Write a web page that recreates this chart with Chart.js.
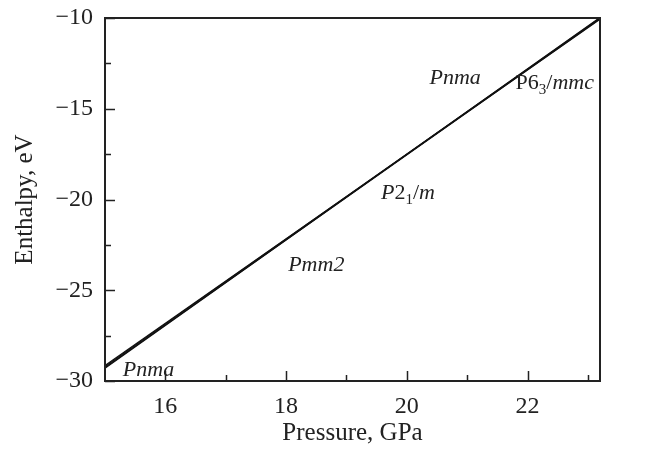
<!DOCTYPE html>
<html>
<head>
<meta charset="utf-8">
<script src="https://cdn.jsdelivr.net/npm/chart.js@4.4.1/dist/chart.umd.min.js"></script>
<style>
  html, body { margin: 0; padding: 0; background: #fff; }
  #wrap { width: 657px; height: 450px; }
</style>
</head>
<body>
<div id="wrap"><canvas id="enthalpy-chart" width="657" height="450"></canvas></div>
<script>
// pressure grid (GPa) and enthalpy of each phase (eV)
const pressure = [15, 23.2];
const hPnma   = [-29.2, -10.0];
const hPmm2   = [-29.25, -10.04];
const hP21m   = [-29.15, -10.07];
const hP63mmc = [-29.3, -9.97];

const xMajor = [16, 18, 20, 22];
const xMinor = [17, 19, 21, 23];
const yMajor = [-30, -25, -20, -15, -10];
const yMinor = [-27.5, -22.5, -17.5, -12.5];

// phase labels: [x, y, segments]  (segment: text, italic, subscript)
const phaseLabels = [
  [15.72, -29.4, [['Pnma', true]]],
  [18.5, -23.6, [['Pmm', true], ['2', true]]],
  [20.02, -19.65, [['P', true], ['2', false], ['1', false, true], ['/', false], ['m', true]]],
  [20.8, -13.3, [['Pnma', true]]],
  [22.45, -13.6, [['P6', false], ['3', false, true], ['/', false], ['mmc', true]]]
];

const SERIF = '"Liberation Serif", "DejaVu Serif", serif';

const frameTicks = {
  id: 'frameTicks',
  afterDraw(chart) {
    const { ctx, chartArea: a, scales: { x, y } } = chart;
    ctx.save();
    ctx.strokeStyle = '#222';
    ctx.lineWidth = 2;
    ctx.strokeRect(a.left, a.top, a.right - a.left, a.bottom - a.top);
    ctx.lineWidth = 1.5;
    ctx.beginPath();
    xMajor.concat(xMinor).forEach(v => {
      const len = xMajor.includes(v) ? 10 : 6;
      const px = Math.round(x.getPixelForValue(v)) + 0.5;
      ctx.moveTo(px, a.bottom); ctx.lineTo(px, a.bottom - len);
    });
    yMajor.concat(yMinor).forEach(v => {
      const len = yMajor.includes(v) ? 10 : 6;
      const py = Math.round(y.getPixelForValue(v)) + 0.5;
      ctx.moveTo(a.left, py); ctx.lineTo(a.left + len, py);
    });
    ctx.stroke();

    // phase names
    ctx.fillStyle = '#222';
    ctx.textBaseline = 'middle';
    phaseLabels.forEach(([lx, ly, segs]) => {
      const fontOf = s => (s[1] ? 'italic ' : '') + (s[2] ? '15px ' : '22px ') + SERIF;
      let w = 0;
      segs.forEach(s => { ctx.font = fontOf(s); w += ctx.measureText(s[0]).width; });
      let cx = x.getPixelForValue(lx) - w / 2;
      const cy = y.getPixelForValue(ly);
      segs.forEach(s => {
        ctx.font = fontOf(s);
        ctx.fillText(s[0], cx, s[2] ? cy + 7 : cy);
        cx += ctx.measureText(s[0]).width;
      });
    });
    ctx.restore();
  }
};

const mkSet = (label, data) => ({
  label,
  data: pressure.map((p, i) => ({ x: p, y: data[i] })),
  borderColor: '#111',
  borderWidth: 1.2,
  pointRadius: 0,
  fill: false,
  tension: 0
});

new Chart(document.getElementById('enthalpy-chart'), {
  type: 'line',
  data: {
    datasets: [
      mkSet('Pnma', hPnma),
      mkSet('Pmm2', hPmm2),
      mkSet('P21/m', hP21m),
      mkSet('P63/mmc', hP63mmc)
    ]
  },
  options: {
    responsive: false,
    animation: false,
    layout: { padding: { top: 18, right: 57, left: 0, bottom: 0 } },
    plugins: { legend: { display: false }, tooltip: { enabled: false } },
    scales: {
      x: {
        type: 'linear',
        min: 15, max: 23.2,
        afterBuildTicks: s => { s.ticks = xMajor.map(v => ({ value: v })); },
        afterFit: s => { s.height = 69; s.paddingLeft = 0; s.paddingRight = 0; },
        grid: { display: false, drawTicks: false },
        border: { display: false },
        ticks: {
          color: '#222', padding: 11,
          font: { family: SERIF, size: 24 },
          callback: v => String(v)
        },
        title: {
          display: true, text: 'Pressure, GPa', color: '#222',
          font: { family: SERIF, size: 25 },
          padding: { top: 0, bottom: 2 }
        }
      },
      y: {
        type: 'linear',
        min: -30, max: -10,
        afterBuildTicks: s => { s.ticks = yMajor.map(v => ({ value: v })); },
        afterFit: s => { s.width = 105; s.paddingTop = 0; s.paddingBottom = 0; },
        grid: { display: false, drawTicks: false },
        border: { display: false },
        ticks: {
          color: '#222', padding: 12,
          font: { family: SERIF, size: 24 },
          callback: v => (v < 0 ? '\u2212' + Math.abs(v) : String(v))
        },
        title: {
          display: true, text: 'Enthalpy, eV', color: '#222',
          font: { family: SERIF, size: 25 },
          padding: { top: 10, bottom: 0 }
        }
      }
    }
  },
  plugins: [frameTicks]
});
</script>
</body>
</html>
